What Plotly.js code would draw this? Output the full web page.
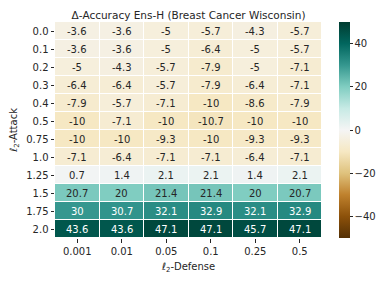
<!DOCTYPE html>
<html><head><meta charset="utf-8">
<script src="https://cdn.plot.ly/plotly-3.0.1.min.js"></script>
<style>html,body{margin:0;padding:0;background:#fff;}#chart{width:385px;height:282px;}</style>
</head><body><div id="chart"></div>
<script>
const defenseLabels = ['0.001','0.01','0.05','0.1','0.25','0.5'];
const attackLabels = ['0.0','0.1','0.2','0.3','0.4','0.5','0.75','1.0','1.25','1.5','1.75','2.0'];
const deltaAccuracy = [
  [-3.6, -3.6, -5, -5.7, -4.3, -5.7],
  [-3.6, -3.6, -5, -6.4, -5, -5.7],
  [-5, -4.3, -5.7, -7.9, -5, -7.1],
  [-6.4, -6.4, -5.7, -7.9, -6.4, -7.1],
  [-7.9, -5.7, -7.1, -10, -8.6, -7.9],
  [-10, -7.1, -10, -10.7, -10, -10],
  [-10, -10, -9.3, -10, -9.3, -9.3],
  [-7.1, -6.4, -7.1, -7.1, -6.4, -7.1],
  [0.7, 1.4, 2.1, 2.1, 1.4, 2.1],
  [20.7, 20, 21.4, 21.4, 20, 20.7],
  [30, 30.7, 32.1, 32.9, 32.1, 32.9],
  [43.6, 43.6, 47.1, 47.1, 45.7, 47.1]
];
const colorbarTicks = [-40, -20, 0, 20, 40];

const brbg = ['#543005','#8c510a','#bf812d','#dfc27d','#f6e8c3','#f5f5f5','#c7eae5','#80cdc1','#35978f','#01665e','#003c30'];
const colorscale = brbg.map((c,i)=>[i/(brbg.length-1), c]);
const zmin = -50, zmax = 50;

function hex2rgb(h){return [parseInt(h.slice(1,3),16),parseInt(h.slice(3,5),16),parseInt(h.slice(5,7),16)];}
function colorAt(v){
  let t = (v - zmin)/(zmax - zmin); t = Math.max(0, Math.min(1, t));
  const p = t*(brbg.length-1); const i = Math.min(Math.floor(p), brbg.length-2); const f = p - i;
  const a = hex2rgb(brbg[i]), b = hex2rgb(brbg[i+1]);
  return a.map((x,k)=>x + (b[k]-x)*f);
}
function lum(rgb){
  const c = rgb.map(x=>{x/=255; return x<=0.03928? x/12.92 : Math.pow((x+0.055)/1.055,2.4);});
  return 0.2126*c[0]+0.7152*c[1]+0.0722*c[2];
}

const annotations = [];
attackLabels.forEach((ya, r)=>{
  defenseLabels.forEach((xd, c)=>{
    const v = deltaAccuracy[r][c];
    // category axes: use category index positions
    annotations.push({x:c, y:r, xref:'x', yref:'y', text:String(v), showarrow:false,
      font:{family:'DejaVu Sans', size:10, color: lum(colorAt(v)) > 0.408 ? '#262626' : '#ffffff'}});
  });
});

const trace = {
  type:'heatmap', x:defenseLabels, y:attackLabels, z:deltaAccuracy,
  colorscale: colorscale, zmin: zmin, zmax: zmax, xgap:1, ygap:1,
  hoverinfo:'skip',
  colorbar:{x:1.064, xanchor:'left', xpad:0, ypad:0, y:0.5, yanchor:'middle', len:1, lenmode:'fraction',
    thickness:11, outlinewidth:0, tickvals:colorbarTicks, ticktext:colorbarTicks.map(t=>t<0?'\u2212'+Math.abs(t):String(t)),
    ticks:'outside', ticklen:3, tickcolor:'#262626',
    tickfont:{family:'DejaVu Sans', size:10, color:'#262626'}}
};

const layout = {
  width:385, height:282,
  margin:{l:55, r:63, t:22, b:44, pad:0, autoexpand:false},
  paper_bgcolor:'#ffffff', plot_bgcolor:'#ffffff',
  title:{text:'\u0394-Accuracy Ens-H (Breast Cancer Wisconsin)', font:{family:'DejaVu Sans', size:10.5, color:'#262626'},
    x:0.5, xref:'paper', xanchor:'center', y:1, yref:'paper', yanchor:'bottom', pad:{b:3}},
  xaxis:{type:'category', showgrid:false, zeroline:false, ticks:'outside', ticklen:3.5, tickcolor:'#262626',
    tickfont:{family:'DejaVu Sans', size:10, color:'#262626'},
    title:{text:'\u2113<sub>2</sub>-Defense', font:{family:'DejaVu Sans', size:10, color:'#262626'}, standoff:7}},
  yaxis:{type:'category', autorange:'reversed', showgrid:false, zeroline:false, ticks:'outside', ticklen:3.5, tickcolor:'#262626',
    tickfont:{family:'DejaVu Sans', size:10, color:'#262626'},
    title:{text:'\u2113<sub>2</sub>-Attack', font:{family:'DejaVu Sans', size:10, color:'#262626'}, standoff:6}},
  annotations: annotations,
  font:{family:'DejaVu Sans'}
};

Plotly.newPlot('chart', [trace], layout, {displayModeBar:false, staticPlot:true});
</script>
</body></html>
